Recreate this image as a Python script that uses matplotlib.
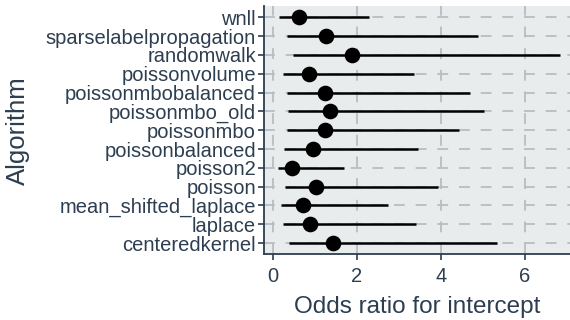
import numpy as np
import matplotlib
matplotlib.use("Agg")
import matplotlib.pyplot as plt

# Odds ratios (point estimate and interval)
algorithms = ["wnll", "sparselabelpropagation", "randomwalk", "poissonvolume",
              "poissonmbobalanced", "poissonmbo_old", "poissonmbo",
              "poissonbalanced", "poisson2", "poisson", "mean_shifted_laplace",
              "laplace", "centeredkernel"]
odds = [0.63, 1.26, 1.90, 0.87, 1.25, 1.36, 1.25, 0.95, 0.45, 1.03, 0.71, 0.90, 1.43]
lower = [0.16, 0.35, 0.49, 0.24, 0.35, 0.37, 0.33, 0.27, 0.13, 0.29, 0.19, 0.24, 0.39]
upper = [2.29, 4.88, 6.84, 3.36, 4.71, 5.03, 4.43, 3.47, 1.70, 3.93, 2.74, 3.41, 5.35]
xticks = [0, 2, 4, 6]

txt = "#2c3e50"
plt.rcParams['font.family'] = ['Liberation Sans', 'DejaVu Sans']

fig = plt.figure(figsize=(5.7, 3.2), dpi=100)
ax = fig.add_axes([0.4637, 0.205, 0.5363, 0.776])
ax.set_facecolor("#e8eced")

y = np.arange(len(algorithms))[::-1]
ax.hlines(y, lower, upper, color="black", linewidth=1.8, zorder=3)
ax.scatter(odds, y, s=105, color="black", zorder=4)

ax.set_yticks(y)
ax.set_yticklabels(algorithms)
ax.set_xticks(xticks)
ax.set_xlim(-0.2, 7.08)
ax.set_ylim(-0.6, len(algorithms) - 0.4)

ax.grid(True, color="#b9bdc1", linestyle=(0, (6, 6)), linewidth=1.3, zorder=1)
ax.set_axisbelow(True)

for s in ["top", "right"]:
    ax.spines[s].set_visible(False)
for s in ["left", "bottom"]:
    ax.spines[s].set_color(txt)
    ax.spines[s].set_linewidth(1.3)
ax.tick_params(colors=txt, labelcolor=txt, labelsize=14.5, width=1.2, length=4, pad=2)
ax.tick_params(axis="x", pad=5)

ax.set_xlabel("Odds ratio for intercept", fontsize=17.5, color=txt, labelpad=7)
ax.set_ylabel("Algorithm", fontsize=18.5, color=txt, labelpad=11)

fig.savefig("out.png", dpi=100)
